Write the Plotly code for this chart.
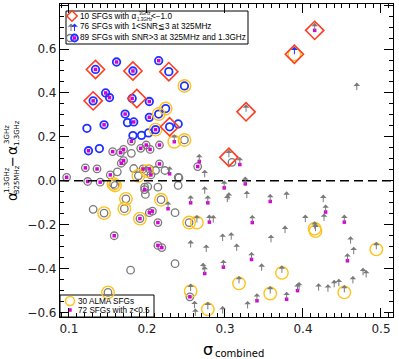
import plotly.graph_objects as go

# ---------------- data ----------------
# SFGs with SNR>3 at 325MHz and 1.3GHz (blue open circles)
blue_x = [0.134, 0.161, 0.182, 0.215, 0.228, 0.248, 0.147, 0.152, 0.131, 0.181,
          0.203, 0.224, 0.215, 0.172, 0.203, 0.175, 0.183, 0.240, 0.229, 0.145,
          0.123, 0.211, 0.182, 0.193, 0.202, 0.125, 0.139]
blue_y = [0.507, 0.541, 0.500, 0.547, 0.497, 0.432, 0.400, 0.379, 0.364, 0.375,
          0.361, 0.329, 0.304, 0.304, 0.289, 0.265, 0.268, 0.259, 0.246, 0.255,
          0.239, 0.233, 0.206, 0.207, 0.218, 0.137, 0.147]

# SFGs with SNR>3 at 325MHz and 1.3GHz (grey open circles)
gray_x = [0.248, 0.156, 0.166, 0.170, 0.180, 0.180, 0.192, 0.199, 0.204, 0.216,
          0.167, 0.170, 0.121, 0.136, 0.153, 0.162, 0.183, 0.195, 0.203, 0.200,
          0.189, 0.205, 0.211, 0.216, 0.223, 0.240, 0.265, 0.097, 0.124, 0.140,
          0.157, 0.159, 0.197, 0.197, 0.201, 0.198, 0.214, 0.240, 0.241, 0.173,
          0.218, 0.131, 0.145, 0.171, 0.203, 0.207, 0.236, 0.191, 0.214, 0.254,
          0.158, 0.214, 0.219, 0.236, 0.179, 0.150, 0.255, 0.309]
gray_y = [0.186, 0.133, 0.128, 0.143, 0.125, 0.180, 0.148, 0.163, 0.143, 0.163,
          0.080, 0.092, 0.059, 0.054, 0.027, 0.041, 0.056, 0.054, 0.054, 0.044,
          0.023, 0.027, 0.047, 0.077, 0.047, 0.016, 0.065, 0.016, -0.003, -0.006,
          -0.014, -0.021, -0.029, -0.040, -0.026, -0.062, -0.029, -0.021, 0.014, -0.082,
          -0.086, -0.130, -0.147, -0.127, -0.145, -0.138, -0.145, -0.172, -0.190, -0.190,
          -0.250, -0.294, -0.304, -0.377, -0.407, -0.508, -0.528, 0.084]

# SFGs with 1<SNR<=3 at 325MHz (lower limits, grey arrows)
arrow_x = [0.235, 0.229, 0.267, 0.415, 0.469, 0.327, 0.305, 0.319, 0.227, 0.256,
           0.264, 0.256, 0.272, 0.256, 0.261, 0.274, 0.326, 0.299, 0.274, 0.278,
           0.303, 0.305, 0.328, 0.358, 0.379, 0.426, 0.429, 0.427, 0.403, 0.453,
           0.280, 0.285, 0.335, 0.415, 0.416, 0.377, 0.297, 0.308, 0.359, 0.315,
           0.276, 0.461, 0.465, 0.494, 0.457, 0.334, 0.298, 0.274, 0.347, 0.373,
           0.477, 0.481, 0.318, 0.464, 0.440, 0.446, 0.432, 0.420, 0.358, 0.453,
           0.393, 0.395, 0.379, 0.341, 0.329, 0.278, 0.297, 0.262]
arrow_y = [0.178, 0.032, 0.088, 0.685, 0.413, 0.314, 0.107, 0.074, -0.127, -0.100,
           -0.190, -0.304, -0.407, -0.502, -0.580, 0.016, -0.014, -0.032, -0.059, -0.100,
           -0.097, -0.086, -0.079, -0.094, -0.082, -0.097, -0.142, -0.183, -0.188, -0.188,
           -0.188, -0.190, -0.190, -0.218, -0.229, -0.238, -0.274, -0.268, -0.280, -0.319,
           -0.324, -0.286, -0.334, -0.312, -0.364, -0.358, -0.393, -0.422, -0.410, -0.419,
           -0.430, -0.440, -0.467, -0.467, -0.485, -0.480, -0.505, -0.500, -0.513, -0.508,
           -0.500, -0.495, -0.539, -0.546, -0.581, -0.585, -0.604, -0.615]

# lower limit in blue
barrow_x = [0.389]
barrow_y = [0.576]

# ALMA SFGs (yellow circles)
alma_x = [0.248, 0.224, 0.215, 0.211, 0.248, 0.200, 0.189, 0.157, 0.159, 0.173,
          0.218, 0.145, 0.171, 0.191, 0.254, 0.150, 0.235, 0.264, 0.256, 0.415,
          0.416, 0.494, 0.373, 0.318, 0.358, 0.453, 0.278, 0.389]
alma_y = [0.432, 0.329, 0.304, 0.233, 0.186, 0.044, 0.023, -0.014, -0.021, -0.082,
          -0.086, -0.147, -0.127, -0.172, -0.190, -0.508, 0.178, -0.190, -0.502, -0.218,
          -0.229, -0.312, -0.419, -0.467, -0.513, -0.508, -0.585, 0.576]

# SFGs with z<0.5 (magenta dots)
lowz_x = [0.134, 0.161, 0.182, 0.215, 0.147, 0.152, 0.131, 0.181, 0.203, 0.172,
          0.203, 0.183, 0.145, 0.211, 0.125,
          0.156, 0.166, 0.170, 0.180, 0.192, 0.199, 0.204, 0.216, 0.167, 0.170,
          0.121, 0.136, 0.153, 0.195, 0.203, 0.205, 0.216, 0.265, 0.097, 0.124,
          0.140, 0.197, 0.203, 0.207, 0.191, 0.214, 0.158, 0.214, 0.219, 0.255,
          0.235, 0.229, 0.267, 0.415, 0.319, 0.227, 0.256, 0.326, 0.299, 0.278,
          0.358, 0.429, 0.453, 0.280, 0.335, 0.457, 0.334, 0.298, 0.274, 0.393,
          0.379, 0.341]
lowz_y = [0.507, 0.541, 0.500, 0.547, 0.400, 0.379, 0.364, 0.375, 0.361, 0.304,
          0.289, 0.268, 0.255, 0.233, 0.137,
          0.133, 0.128, 0.143, 0.180, 0.148, 0.163, 0.143, 0.163, 0.080, 0.092,
          0.059, 0.054, 0.027, 0.054, 0.054, 0.027, 0.077, 0.065, 0.016, -0.003,
          -0.006, -0.040, -0.145, -0.138, -0.172, -0.190, -0.250, -0.294, -0.304, -0.528,
          0.178, 0.032, 0.088, 0.685, 0.074, -0.127, -0.100, -0.014, -0.032, -0.100,
          -0.094, -0.142, -0.188, -0.188, -0.190, -0.364, -0.358, -0.393, -0.422, -0.500,
          -0.539, -0.546]

# SFGs with steep spectra alpha(1.3-3GHz) < -1.0 (red diamonds)
steep_x = [0.134, 0.182, 0.228, 0.131, 0.187, 0.229, 0.415, 0.389, 0.327, 0.305]
steep_y = [0.507, 0.500, 0.497, 0.364, 0.375, 0.246, 0.685, 0.576, 0.314, 0.107]

x_ticks = [0.1, 0.2, 0.3, 0.4, 0.5]
y_ticks = [-0.6, -0.4, -0.2, 0.0, 0.2, 0.4, 0.6, 0.8]

# ---------------- style ----------------
W, H = 399, 359
PL, PR, PT, PB = 60, 393, 4, 317
GRAY = "#7a7a7a"
BLUE = "#1e32ff"
RED = "#ff3b22"
YEL = "#ffc21a"
MAG = "#d800d8"
TFONT = "DejaVu Sans"
LFONT = "Liberation Sans, Arial"
LSIZE = 8.2


def P(px, py):
    return (px - PL) / (PR - PL), (PB - py) / (PB - PT)


fig = go.Figure()

fig.add_trace(go.Scatter(x=gray_x, y=gray_y, mode="markers", hoverinfo="skip",
                         marker=dict(symbol="circle-open", size=7.5, color=GRAY,
                                     line=dict(width=1.3, color=GRAY))))
fig.add_trace(go.Scatter(x=blue_x, y=blue_y, mode="markers", hoverinfo="skip",
                         marker=dict(symbol="circle-open", size=7.5, color=BLUE,
                                     line=dict(width=1.8, color=BLUE))))
fig.add_trace(go.Scatter(x=alma_x, y=alma_y, mode="markers", hoverinfo="skip",
                         marker=dict(symbol="circle-open", size=12.5, color=YEL,
                                     line=dict(width=1.4, color=YEL))))
fig.add_trace(go.Scatter(x=lowz_x, y=lowz_y, mode="markers", hoverinfo="skip",
                         marker=dict(symbol="square", size=3.5, color=MAG)))
fig.add_trace(go.Scatter(x=steep_x, y=steep_y, mode="markers", hoverinfo="skip",
                         marker=dict(symbol="diamond-open", size=14, color=RED,
                                     line=dict(width=1.6, color=RED))))

annotations = []


def up_arrow(x, y, color, xref="x", yref="y", length=9):
    return dict(x=x, y=y, xref=xref, yref=yref, text="", showarrow=True,
                ax=0, ay=-length, axref="pixel", ayref="pixel",
                arrowside="start", startarrowhead=1, startarrowsize=1.1,
                arrowwidth=1, arrowcolor=color, standoff=0, startstandoff=0)


for ax_, ay_ in zip(arrow_x, arrow_y):
    annotations.append(up_arrow(ax_, ay_, GRAY))
for ax_, ay_ in zip(barrow_x, barrow_y):
    annotations.append(up_arrow(ax_, ay_, BLUE))

# ---------- legend boxes, zero line ----------
lx0, ly0 = P(66, 11)
lx1, ly1 = P(248, 44)
shapes = [
    dict(type="rect", xref="paper", yref="paper", x0=lx0, y0=ly0, x1=lx1, y1=ly1,
         line=dict(color="black", width=1), fillcolor="white", layer="below"),
]
bx0, by0 = P(60, 295)
bx1, by1 = P(154, 317)
shapes.append(dict(type="rect", xref="paper", yref="paper", x0=bx0, y0=by0, x1=bx1, y1=by1,
                   line=dict(color="black", width=1), fillcolor="white", layer="below"))
shapes.append(dict(type="line", xref="paper", yref="y", x0=0, x1=1, y0=0, y1=0,
                   line=dict(color="black", width=1.5, dash="9px,5px")))


def txt(px, py, s, size=LSIZE, anchor="left", font=LFONT, angle=0, color="black"):
    x, y = P(px, py)
    return dict(x=x, y=y, xref="paper", yref="paper", text=s, showarrow=False,
                xanchor=anchor, yanchor="middle", textangle=angle,
                font=dict(family=font, size=size, color=color),
                borderpad=0)


annotations.append(txt(79, 16, "10 SFGs with α"))
annotations.append(txt(136, 16, "3GHz<br>1.3GHz", size=4.5))
annotations.append(txt(150, 16, "<−1.0"))
annotations.append(txt(79, 27, "76 SFGs with 1<SNR≦3 at 325MHz"))
annotations.append(txt(79, 38, "89 SFGs with SNR>3 at 325MHz and 1.3GHz"))
annotations.append(txt(77, 301, "30 ALMA SFGs"))
annotations.append(txt(77, 310, "72 SFGs with z<0.5"))

gx, gy = P(71, 31)
annotations.append(up_arrow(gx, gy, GRAY, xref="paper", yref="paper", length=9))
gx, gy = P(74.5, 31)
annotations.append(up_arrow(gx, gy, BLUE, xref="paper", yref="paper", length=9))

# legend glyph markers (overlay axis in paper units)
g = {"gray": P(70, 38), "blue": P(74.5, 38), "dia": P(72, 16), "yel": P(70, 301),
     "mag": P(70, 310)}
fig.add_trace(go.Scatter(x=[g["gray"][0]], y=[g["gray"][1]], xaxis="x2", yaxis="y2",
                         mode="markers", hoverinfo="skip", cliponaxis=False,
                         marker=dict(symbol="circle-open", size=7, color=GRAY,
                                     line=dict(width=1.3, color=GRAY))))
fig.add_trace(go.Scatter(x=[g["blue"][0]], y=[g["blue"][1]], xaxis="x2", yaxis="y2",
                         mode="markers", hoverinfo="skip", cliponaxis=False,
                         marker=dict(symbol="circle-open", size=7, color=BLUE,
                                     line=dict(width=1.8, color=BLUE))))
fig.add_trace(go.Scatter(x=[g["dia"][0]], y=[g["dia"][1]], xaxis="x2", yaxis="y2",
                         mode="markers", hoverinfo="skip", cliponaxis=False,
                         marker=dict(symbol="diamond-open", size=8, color=RED,
                                     line=dict(width=1.5, color=RED))))
fig.add_trace(go.Scatter(x=[g["yel"][0]], y=[g["yel"][1]], xaxis="x2", yaxis="y2",
                         mode="markers", hoverinfo="skip", cliponaxis=False,
                         marker=dict(symbol="circle-open", size=9, color=YEL,
                                     line=dict(width=1.4, color=YEL))))
fig.add_trace(go.Scatter(x=[g["mag"][0], g["blue"][0]], y=[g["mag"][1], g["blue"][1]],
                         xaxis="x2", yaxis="y2",
                         mode="markers", hoverinfo="skip", cliponaxis=False,
                         marker=dict(symbol="square", size=3.5, color=MAG)))

# ---------- axis titles ----------
annotations.append(txt(208, 349, "σ", size=16, anchor="center", font=TFONT))
annotations.append(txt(214, 353, "combined", size=10, font=TFONT))

annotations.append(txt(12, 197, "α", size=14, anchor="center", font=TFONT, angle=-90))
annotations.append(txt(7, 180, "1.3GHz", size=7, anchor="center", font=TFONT, angle=-90))
annotations.append(txt(17, 180, "325MHz", size=7, anchor="center", font=TFONT, angle=-90))
annotations.append(txt(12, 162, "−", size=13, anchor="center", font=TFONT, angle=-90))
annotations.append(txt(12, 151, "α", size=14, anchor="center", font=TFONT, angle=-90))
annotations.append(txt(7, 135, "3GHz", size=7, anchor="center", font=TFONT, angle=-90))
annotations.append(txt(17, 133, "1.3GHz", size=7, anchor="center", font=TFONT, angle=-90))

axis_common = dict(showline=True, linecolor="black", linewidth=1.2, mirror="allticks",
                   ticks="inside", ticklen=9, tickwidth=1, tickcolor="black",
                   showgrid=False, zeroline=False,
                   tickfont=dict(family=TFONT, size=12, color="#222"))

fig.update_layout(
    width=W, height=H, autosize=False,
    margin=dict(l=PL, r=W - PR, t=PT, b=H - PB),
    paper_bgcolor="white", plot_bgcolor="white",
    showlegend=False,
    xaxis=dict(range=[0.0885, 0.5154], tickvals=x_ticks, tickformat=".1f",
               minor=dict(dtick=0.01, tick0=0.0, ticks="inside", ticklen=4,
                          tickcolor="black", showgrid=False),
               **axis_common),
    yaxis=dict(range=[-0.62, 0.805], tickvals=y_ticks, tickformat=".1f",
               minor=dict(dtick=0.05, tick0=0.0, ticks="inside", ticklen=4,
                          tickcolor="black", showgrid=False),
               **axis_common),
    xaxis2=dict(overlaying="x", range=[0, 1], visible=False),
    yaxis2=dict(overlaying="y", range=[0, 1], visible=False),
    shapes=shapes,
    annotations=annotations,
)

fig.write_html("out.html", config={"displayModeBar": False},
               post_script="document.body.style.margin='0';")
